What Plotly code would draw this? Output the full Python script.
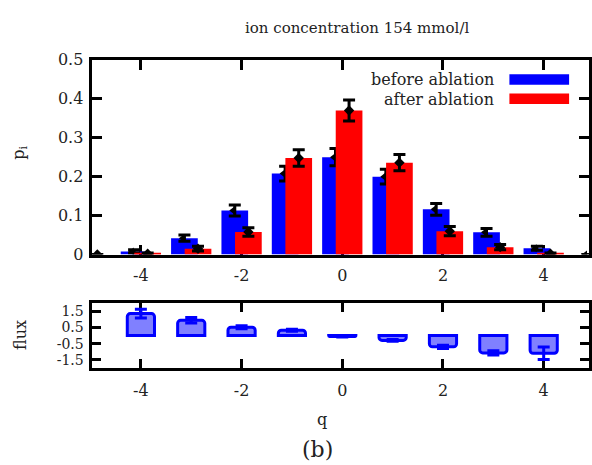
import plotly.graph_objects as go

# ---------------- data ----------------
q = [-5, -4, -3, -2, -1, 0, 1, 2, 3, 4, 5]
before = [0.0, 0.008, 0.042, 0.113, 0.208, 0.250, 0.200, 0.116, 0.057, 0.016, 0.0]
before_err = [0.0, 0.004, 0.008, 0.014, 0.019, 0.022, 0.019, 0.015, 0.010, 0.005, 0.0]
after = [0.0, 0.002, 0.015, 0.058, 0.248, 0.370, 0.236, 0.060, 0.019, 0.002, 0.0]
after_err = [0.0, 0.002, 0.006, 0.011, 0.021, 0.027, 0.021, 0.012, 0.007, 0.002, 0.0]

q_flux = [-4, -3, -2, -1, 0, 1, 2, 3, 4]
flux = [1.37, 0.95, 0.52, 0.33, -0.05, -0.30, -0.70, -1.08, -1.10]
flux_err = [0.27, 0.17, 0.10, 0.06, 0.03, 0.06, 0.10, 0.13, 0.39]

xticks = [-4, -2, 0, 2, 4]
xticks_text = ["-4", "-2", "0", "2", "4"]
yticks_main = [0, 0.1, 0.2, 0.3, 0.4, 0.5]
yticks_main_text = ["0", "0.1", "0.2", "0.3", "0.4", "0.5"]
yticks_flux = [1.5, 0.5, -0.5, -1.5]
yticks_flux_text = ["1.5", "0.5", "-0.5", "-1.5"]

title_text = "ion concentration 154 mmol/l"
label_before = "before ablation"
label_after = "after ablation"

# ---------------- style ----------------
W, H = 592, 465
FONT = "DejaVu Serif"
TXT = "#222222"
BW = 0.53
SHIFT = 0.135

def px(x):
    return x / W

def py(y):
    return 1 - y / H

fig = go.Figure()

fig.add_trace(go.Bar(
    x=q, y=before, width=BW, offset=-SHIFT - BW / 2,
    marker=dict(color="#0000ff", line=dict(width=0)),
    error_y=dict(type="data", array=before_err, color="black", thickness=3, width=6),
    xaxis="x", yaxis="y", showlegend=False))
fig.add_trace(go.Bar(
    x=q, y=after, width=BW, offset=SHIFT - BW / 2,
    marker=dict(color="#ff0000", line=dict(width=0)),
    error_y=dict(type="data", array=after_err, color="black", thickness=3, width=6),
    xaxis="x", yaxis="y", showlegend=False))

fig.add_trace(go.Scatter(
    x=[v + SHIFT for v in q], y=after, mode="markers",
    marker=dict(symbol="diamond", size=8, color="black"),
    xaxis="x", yaxis="y", showlegend=False, hoverinfo="skip"))
fig.add_trace(go.Scatter(
    x=[v - SHIFT - 0.04 for v in q], y=before, mode="markers",
    marker=dict(symbol="triangle-left", size=7, color="black"),
    xaxis="x", yaxis="y", showlegend=False, hoverinfo="skip"))

fig.add_trace(go.Bar(
    x=q_flux, y=flux, width=0.54,
    marker=dict(color="#8080ff", line=dict(color="#0000ff", width=3), cornerradius=3),
    error_y=dict(type="data", array=flux_err, color="#0000ff", thickness=3, width=6),
    xaxis="x2", yaxis="y2", showlegend=False))

axis_common = dict(
    showline=True, linewidth=3, linecolor="black", mirror="ticks",
    ticks="inside", ticklen=10, tickwidth=3, tickcolor="black",
    showgrid=False, zeroline=False, layer="below traces",
    tickfont=dict(family=FONT, size=16, color=TXT),
)

xdom = [px(92), 1.0]
fig.update_layout(
    width=W, height=H,
    margin=dict(l=0, r=0, t=0, b=0),
    paper_bgcolor="white", plot_bgcolor="white",
    barmode="overlay",
    xaxis=dict(domain=xdom, range=[-4.98, 4.9], tickvals=xticks, ticktext=xticks_text,
               anchor="y", ticklabelstandoff=4, **axis_common),
    yaxis=dict(domain=[py(256), py(53)], range=[0, 0.5], tickvals=yticks_main,
               ticktext=yticks_main_text, anchor="x", ticklabelstandoff=2, **axis_common),
    xaxis2=dict(domain=xdom, range=[-4.98, 4.9], tickvals=xticks, ticktext=xticks_text,
                anchor="y2", ticklabelstandoff=6, **{**axis_common, "ticklen": 9}),
    yaxis2=dict(domain=[py(374), py(307)], range=[-2, 2], tickvals=yticks_flux,
                ticktext=yticks_flux_text, anchor="x2", ticklabelstandoff=2,
                **{**axis_common, "ticklen": 9,
                   "tickfont": dict(family=FONT, size=14, color=TXT)}),
)

ann = [
    dict(text=title_text, x=px(359), y=py(20), size=15, xanchor="center", yanchor="middle", ys=0),
    dict(text=label_before, x=px(499), y=py(73), size=16, xanchor="right", yanchor="middle", ys=0),
    dict(text=label_after, x=px(499), y=py(94), size=16, xanchor="right", yanchor="middle", ys=0),
    dict(text="q", x=px(324), y=py(428), size=16, xanchor="center", yanchor="middle", ys=0),
    dict(text="(b)", x=px(319), y=0, size=22, xanchor="center", yanchor="bottom", ys=-9),
]
for a in ann:
    fig.add_annotation(text=a["text"], x=a["x"], y=a["y"], xref="paper", yref="paper",
                       xanchor=a["xanchor"], yanchor=a["yanchor"], showarrow=False,
                       yshift=a["ys"],
                       font=dict(family=FONT, size=a["size"], color=TXT))

fig.add_annotation(text="p<sub>i</sub>", x=px(20), y=py(150), xref="paper", yref="paper",
                   textangle=-90, showarrow=False, xanchor="center", yanchor="middle",
                   font=dict(family=FONT, size=16, color=TXT))
fig.add_annotation(text="flux", x=px(20), y=py(340), xref="paper", yref="paper",
                   textangle=-90, showarrow=False, xanchor="center", yanchor="middle",
                   font=dict(family=FONT, size=16, color=TXT))

fig.add_shape(type="rect", xref="paper", yref="paper", x0=px(512), x1=px(572),
              y0=py(79), y1=py(68), fillcolor="#0000ff", line=dict(width=0))
fig.add_shape(type="rect", xref="paper", yref="paper", x0=px(512), x1=px(572),
              y0=py(99), y1=py(88), fillcolor="#ff0000", line=dict(width=0))

fig.write_html("out.html")
